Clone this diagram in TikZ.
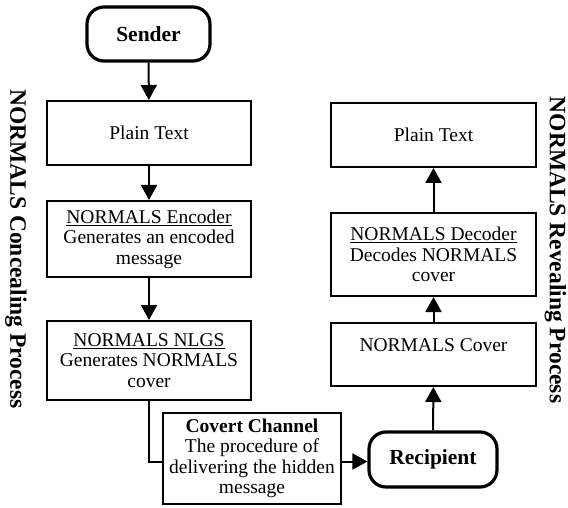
\documentclass[tikz,border=0pt]{standalone}
\usepackage{fontspec}
\setmainfont{Liberation Serif}
\usetikzlibrary{arrows.meta}
\begin{document}
\begin{tikzpicture}[x=1pt,y=-1pt,
  box/.style={draw, line width=2pt, minimum width=204pt, align=center, inner sep=2pt,
    font=\fontsize{19.5}{20.5}\selectfont},
  term/.style={draw, line width=3.2pt, rounded corners=17pt, align=center,
    font=\bfseries\fontsize{21.5}{23}\selectfont},
  side/.style={rotate=-90, inner sep=0pt, font=\bfseries\fontsize{23.5}{25}\selectfont},
  arr/.style={line width=2pt, -{Triangle[length=15pt,width=16pt]}},
  conn/.style={line width=2pt}]
\useasboundingbox (0,0) rectangle (568,508);
% left column
\node[term, minimum width=123pt, minimum height=54pt] (sender) at (148.5,34) {Sender};
\node[box, minimum height=64pt] (plainL) at (149,133) {Plain Text};
\node[box, minimum height=76pt] (enc) at (149,239) {\underline{NORMALS Encoder}\\Generates an encoded\\message};
\node[box, minimum height=79pt] (nlgs) at (149,360.5) {\underline{NORMALS NLGS}\\Generates NORMALS\\cover};
% bottom
\node[box, minimum width=178pt, minimum height=91pt] (covert) at (252,458.5) {\textbf{Covert Channel}\\The procedure of\\delivering the hidden\\message};
\node[term, minimum width=128pt, minimum height=55pt] (recip) at (433,459.5) {Recipient};
% right column
\node[box, minimum width=205pt, minimum height=63pt] (coverR) at (433.5,354.5) {\raisebox{3.5pt}[0pt][0pt]{NORMALS Cover}};
\node[box, minimum width=205pt, minimum height=83pt] (dec) at (433.5,254.5) {\underline{NORMALS Decoder}\\Decodes NORMALS\\cover};
\node[box, minimum width=205pt, minimum height=64pt] (plainR) at (433.5,135) {Plain Text};
% side labels
\node[side] (concl) at (16,249) {NORMALS Concealing Process};
\node[side] (revl) at (555.5,250) {NORMALS Revealing Process};
% connectors
\draw[arr] (sender) -- (plainL);
\draw[arr] (plainL) -- (enc);
\draw[arr] (enc) -- (nlgs);
\coordinate (chanL) at ([yshift=-3pt]covert.west);
\coordinate (chanR) at ([yshift=-3pt]covert.east);
\draw[conn] (nlgs.south) |- (chanL);
\draw[arr] (chanR) -- (chanR -| recip.west);
\draw[arr] (recip) -- (coverR);
\draw[arr] (coverR) -- (dec);
\draw[arr] (dec) -- (plainR);
\end{tikzpicture}
\end{document}
